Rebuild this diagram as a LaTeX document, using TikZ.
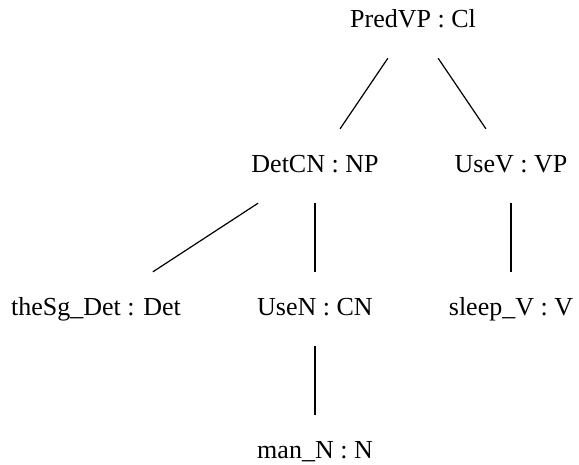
\documentclass[tikz,border=0pt]{standalone}
\usepackage{fontspec}
\setmainfont{Liberation Serif}

\begin{document}
\begin{tikzpicture}[x=1pt, y=-1pt, font=\fontsize{26}{30}\selectfont,
  tnode/.style={anchor=base, inner xsep=4pt, inner ysep=25pt,
                text height=18pt, text depth=6pt},
  branch/.style={line width=1.2pt}]
  \useasboundingbox (0,0) rectangle (579,464);
  % abstract syntax tree, one row per depth
  \node[tnode] (predvp) at (413,27) {PredVP : Cl};
  \node[tnode] (detcn) at (315,172) {DetCN : NP};
  \node[tnode] (usev) at (511,172) {UseV : VP};
  \node[tnode] (thesg) at (96,315) {theSg\_Det : Det};
  \node[tnode] (usen) at (315,315) {UseN : CN};
  \node[tnode] (sleep) at (511,315) {sleep\_V : V};
  \node[tnode] (mann) at (315,458) {man\_N : N};
  \draw[branch] (predvp) -- (detcn);
  \draw[branch] (predvp) -- (usev);
  \draw[branch] (detcn) -- (thesg);
  \draw[branch] (detcn) -- (usen);
  \draw[branch] (usev) -- (sleep);
  \draw[branch] (usen) -- (mann);
\end{tikzpicture}
\end{document}
